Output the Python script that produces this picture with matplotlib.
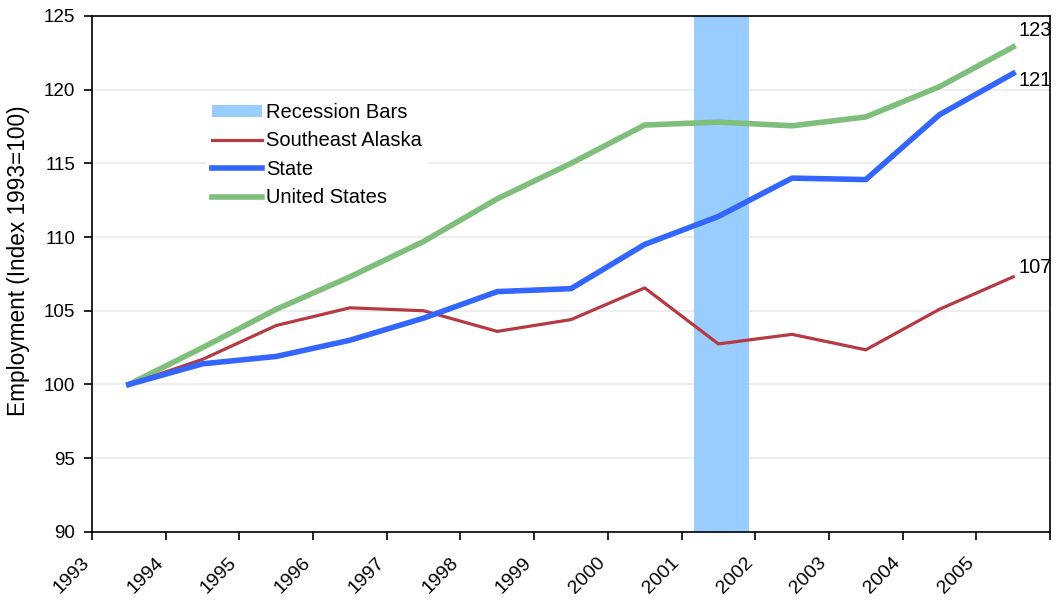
import matplotlib.pyplot as plt
import matplotlib.transforms as mtransforms
from matplotlib.patches import Patch

# annual averages, index 1993 = 100
years = [1993, 1994, 1995, 1996, 1997, 1998, 1999, 2000, 2001, 2002, 2003, 2004, 2005]
southeast = [100.0, 101.7, 104.0, 105.2, 105.0, 103.6, 104.4, 106.55, 102.75, 103.4, 102.35, 105.1, 107.3]
state = [100.0, 101.4, 101.9, 103.0, 104.5, 106.3, 106.5, 109.5, 111.4, 114.0, 113.9, 118.3, 121.1]
usa = [100.0, 102.5, 105.1, 107.3, 109.7, 112.6, 115.0, 117.6, 117.8, 117.55, 118.15, 120.2, 122.9]

# 2001 recession, March to November
recession_start = 2001 + 2 / 12
recession_end = 2001 + 11 / 12

end_labels = {'usa': '123', 'state': '121', 'southeast': '107'}

plt.rcParams['font.family'] = ['Liberation Sans', 'DejaVu Sans']

fig = plt.figure(figsize=(10.57, 6.03), dpi=100)
ax = fig.add_axes([0.087, 0.118, 0.9064, 0.8555])

x = [y + 0.5 for y in years]

ax.axvspan(recession_start, recession_end, color='#99ccff', lw=0, zorder=1)
ax.plot(x, southeast, color='#b53a43', lw=2.3, zorder=3)
ax.plot(x, state, color='#3366ff', lw=4, zorder=4)
ax.plot(x, usa, color='#7fbf7b', lw=4, zorder=2)

# value labels at the end of each line
ax.annotate(end_labels['usa'], (x[-1], usa[-1]), xytext=(4, 12), textcoords='offset points',
            fontsize=14.5, va='center', ha='left')
ax.annotate(end_labels['state'], (x[-1], state[-1]), xytext=(4, -5), textcoords='offset points',
            fontsize=14.5, va='center', ha='left')
ax.annotate(end_labels['southeast'], (x[-1], southeast[-1]), xytext=(4, 7), textcoords='offset points',
            fontsize=14.5, va='center', ha='left')

ax.set_xlim(1993, 2006)
ax.set_ylim(90, 125)
ax.set_yticks(range(90, 126, 5))
ax.set_xticks(range(1993, 2007))
ax.set_xticklabels([str(y) for y in years] + [''], rotation=45, ha='right', rotation_mode='anchor')
ax.tick_params(axis='both', direction='out', length=6, width=1.2)
ax.tick_params(axis='y', labelsize=13.5, pad=6)
ax.tick_params(axis='x', labelsize=14, pad=10)
shift = mtransforms.ScaledTranslation(-11 / 100, 0, fig.dpi_scale_trans)
for lbl in ax.get_xticklabels():
    lbl.set_transform(lbl.get_transform() + shift)
ax.grid(axis='y', color='#ebebeb', lw=1.2, zorder=0)
ax.set_axisbelow(True)
for s in ax.spines.values():
    s.set_linewidth(1.2)

ax.set_ylabel('Employment (Index 1993=100)', fontsize=16.3)
ax.yaxis.set_label_coords(-0.065, 0.525)

handles = [Patch(facecolor='#99ccff', edgecolor='none'),
           plt.Line2D([], [], color='#b53a43', lw=2.3),
           plt.Line2D([], [], color='#3366ff', lw=4),
           plt.Line2D([], [], color='#7fbf7b', lw=4)]
leg = ax.legend(handles, ['Recession Bars', 'Southeast Alaska', 'State', 'United States'],
                loc='upper left', bbox_to_anchor=(0.119, 0.843), borderaxespad=0,
                frameon=True, fontsize=14.5, handlelength=2.5, handleheight=0.6,
                handletextpad=0.2, labelspacing=0.47, borderpad=0.3)
leg.get_frame().set_edgecolor('none')
leg.get_frame().set_facecolor('white')
leg.get_frame().set_alpha(1)

fig.savefig('out.png', dpi=100)
